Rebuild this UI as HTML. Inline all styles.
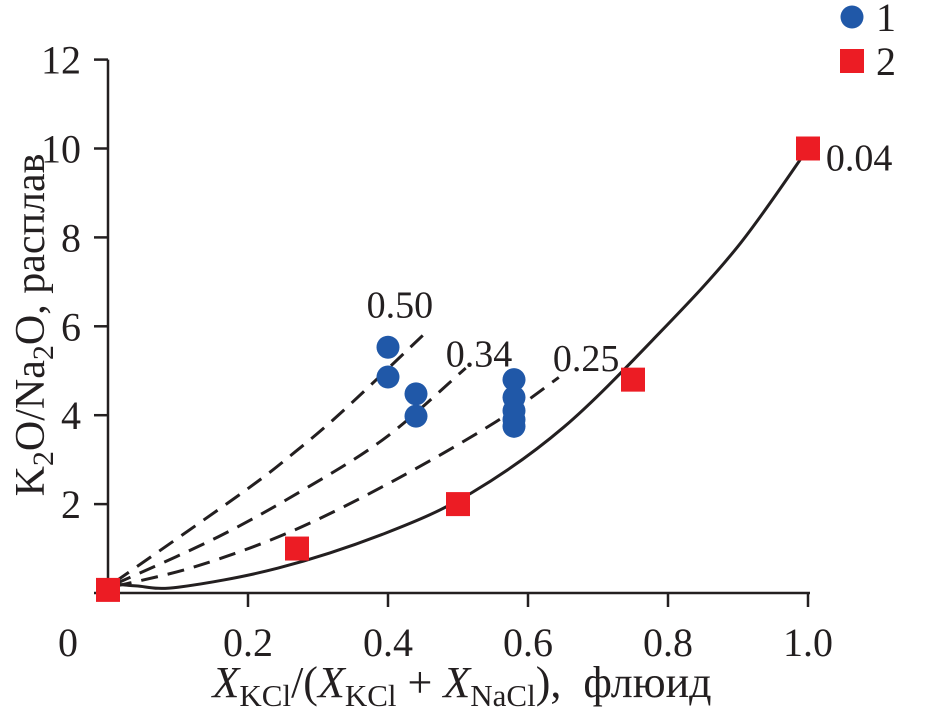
<!DOCTYPE html>
<html><head><meta charset="utf-8"><style>
body{margin:0;background:#fff}
svg text{font-family:"Liberation Serif",serif;fill:#231f20}
</style></head><body>
<svg id="c" width="928" height="716" viewBox="0 0 928 716"></svg>
<script>
const xTicks=[0.2,0.4,0.6,0.8,1.0];
const xTickLabels=["0.2","0.4","0.6","0.8","1.0"];
const yTicks=[2,4,6,8,10,12];
const yTickLabels=["2","4","6","8","10","12"];
const solidX=[0,0.04,0.1,0.243,0.397,0.519,0.651,0.789,0.9,1.0];
const solidY=[0.22,0.16,0.13,0.56,1.35,2.25,3.73,5.87,7.8,10.0];
const d25X=[0.01,0.126,0.264,0.411,0.554,0.644];
const d25Y=[0.15,0.6,1.4,2.55,3.85,4.85];
const d34X=[0.01,0.157,0.279,0.397,0.511];
const d34Y=[0.2,1.26,2.32,3.5,5.06];
const d50X=[0.01,0.193,0.267,0.336,0.45];
const d50Y=[0.25,2.27,3.17,4.1,5.8];
const s1X=[0.4,0.4,0.44,0.44,0.58,0.58,0.58,0.58,0.58];
const s1Y=[5.53,4.86,4.48,3.98,4.8,4.4,4.1,3.9,3.75];
const s2X=[0,0.27,0.5,0.75,1.0];
const s2Y=[0.07,1.0,2.0,4.8,10.0];
const curveLabels=["0.50","0.34","0.25","0.04"];
const curveLabelX=[0.417,0.53,0.683,1.073];
const curveLabelY=[6.2,5.1,5.0,9.5];

const NS="http://www.w3.org/2000/svg";
const svg=document.getElementById('c');
const X=v=>108+v*700, Y=v=>593-v*44.45;
function mk(t,a,p){const e=document.createElementNS(NS,t);for(const k in a)e.setAttribute(k,a[k]);(p||svg).appendChild(e);return e;}
let ax=mk('line',{x1:108,y1:Y(12),x2:108,y2:593,stroke:'#231f20','stroke-width':2.5});


ax=mk('line',{x1:94,y1:593,x2:810,y2:593,stroke:'#231f20','stroke-width':2.5});


yTicks.forEach((v,i)=>{
 const t=mk('line',{x1:94,y1:Y(v),x2:108,y2:Y(v),stroke:'#231f20','stroke-width':2.5});
 
 
 const l=mk('text',{x:81,y:Y(v)+14,'text-anchor':'end','font-size':40});
 l.textContent=yTickLabels[i];
 
 
});
xTicks.forEach((v,i)=>{
 const t=mk('line',{x1:X(v),y1:593,x2:X(v),y2:607,stroke:'#231f20','stroke-width':2.5});
 
 
 const l=mk('text',{x:X(v),y:656,'text-anchor':'middle','font-size':40});
 l.textContent=xTickLabels[i];
 
 
});
let z=mk('text',{x:68,y:656,'text-anchor':'middle','font-size':40});z.textContent="0";


function line(xs,ys,dash,name){
 const d=xs.map((x,i)=>[X(x),Y(ys[i])]);
 let p='M'+d[0][0]+','+d[0][1];
 for(let i=1;i<d.length;i++){const p0=d[Math.max(0,i-2)],p1=d[i-1],p2=d[i],p3=d[Math.min(d.length-1,i+1)];
  p+=` C${p1[0]+(p2[0]-p0[0])/6},${p1[1]+(p2[1]-p0[1])/6} ${p2[0]-(p3[0]-p1[0])/6},${p2[1]-(p3[1]-p1[1])/6} ${p2[0]},${p2[1]}`;}
 const e=mk('path',{d:p,fill:'none',stroke:'#231f20','stroke-width':3});
 if(dash)e.setAttribute('stroke-dasharray','17,10');
 
 
}
line(solidX,solidY,false,'curve-0-04');
line(d25X,d25Y,true,'curve-0-25');
line(d34X,d34Y,true,'curve-0-34');
line(d50X,d50Y,true,'curve-0-50');
curveLabels.forEach((s,i)=>{
 const l=mk('text',{x:X(curveLabelX[i]),y:Y(curveLabelY[i]),'text-anchor':'middle','font-size':38});
 l.textContent=s;
 
 
});
s1X.forEach((x,i)=>{
 const c=mk('circle',{cx:X(x),cy:Y(s1Y[i]),r:11.5,fill:'#2058a8'});
 
 
});
s2X.forEach((x,i)=>{
 const r=mk('rect',{x:X(x)-12,y:Y(s2Y[i])-12,width:24,height:24,fill:'#ec1c24'});
 
 
});
let g=mk('circle',{cx:852,cy:17,r:11.5,fill:'#2058a8'});


g=mk('rect',{x:840,y:49,width:24,height:24,fill:'#ec1c24'});


g=mk('text',{x:876,y:31,'font-size':40});g.textContent="1";


g=mk('text',{x:876,y:75,'font-size':40});g.textContent="2";


</script>
<svg style="position:absolute;left:0;top:0" width="928" height="716">
<text transform="translate(44,325) rotate(-90)" text-anchor="middle" font-size="42" font-family="Liberation Serif,serif" fill="#231f20">K<tspan font-size="30" dy="9">2</tspan><tspan dy="-9">O/Na</tspan><tspan font-size="30" dy="9">2</tspan><tspan dy="-9">O, расплав</tspan></text>
<text x="462" y="697" text-anchor="middle" font-size="44" font-family="Liberation Serif,serif" fill="#231f20" xml:space="preserve"><tspan font-style="italic">X</tspan><tspan font-size="31" dy="9">KCl</tspan><tspan dy="-9">/(</tspan><tspan font-style="italic">X</tspan><tspan font-size="31" dy="9">KCl</tspan><tspan dy="-9"> + </tspan><tspan font-style="italic">X</tspan><tspan font-size="31" dy="9">NaCl</tspan><tspan dy="-9">),  флюид</tspan></text>
</svg>
</body></html>
